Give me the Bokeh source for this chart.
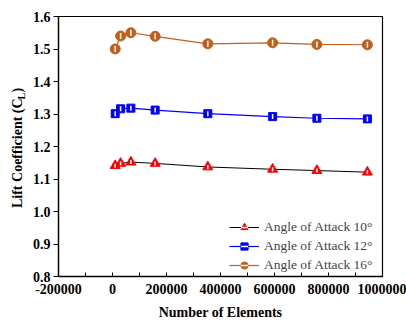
import math
from bokeh.plotting import figure
from bokeh.layouts import row
from bokeh.models import Range1d, FixedTicker, NumeralTickFormatter, Legend, LegendItem
from bokeh.embed import file_html
from bokeh.resources import INLINE

# ---- data ----
elements = [10000, 30000, 68000, 158000, 353000, 593000, 757000, 944000]
cl_aoa10 = [1.141, 1.148, 1.152, 1.148, 1.137, 1.130, 1.126, 1.121]
cl_aoa12 = [1.301, 1.316, 1.318, 1.312, 1.301, 1.292, 1.287, 1.285]
cl_aoa16 = [1.500, 1.540, 1.550, 1.539, 1.516, 1.519, 1.514, 1.513]
series_labels = ["Angle of Attack 10°", "Angle of Attack 12°", "Angle of Attack 16°"]
x_ticks = [-200000, 0, 200000, 400000, 600000, 800000, 1000000]
y_ticks = [0.8, 0.9, 1.0, 1.1, 1.2, 1.3, 1.4, 1.5, 1.6]
y_title_parts = ["Lift Coefficient (C", "L", ")"]

FONT = "Liberation Serif"
ORANGE = "#C0601C"
H = 322
LW = 26  # width of the y-title strip
FTOP, FBOT = 16, 278  # frame top / bottom in page px (the row aligns both frames)

# ---- y-axis title strip (separate figure so the rotated text is not clipped) ----
lab = figure(width=LW, height=H, output_backend="svg", toolbar_location=None,
             x_range=Range1d(0, LW), y_range=Range1d(FBOT, FTOP),
             x_axis_location=None, y_axis_location=None, min_border=0, title=None)
lab.outline_line_color = None
lab.xgrid.visible = False
lab.ygrid.visible = False
tstyle = dict(angle=math.pi / 2, text_font="Liberation Serif", text_font_style="bold",
              text_baseline="middle", text_color="black")
lab.text(x=[17], y=[209], text=[y_title_parts[0]], text_font_size="14px", text_align="left", **tstyle)
lab.text(x=[17], y=[88], text=[y_title_parts[2]], text_font_size="14px", text_align="right", **tstyle)
lab.text(x=[21], y=[93], text=[y_title_parts[1]], text_font_size="10px", text_align="right", **tstyle)

# ---- main plot ----
p = figure(width=406 - LW, height=H, output_backend="svg", toolbar_location=None,
           x_range=Range1d(-200000, 1000000), y_range=Range1d(0.8, 1.6),
           min_border_left=58 - LW, min_border_right=24, min_border_top=FTOP,
           min_border_bottom=H - FBOT)

p.xgrid.visible = False
p.ygrid.visible = False
p.outline_line_color = "black"
p.outline_line_width = 1.2

xa = p.xaxis[0]
xa.ticker = FixedTicker(ticks=x_ticks, minor_ticks=[-100000, 100000, 300000, 500000, 700000, 900000])
xa.formatter = NumeralTickFormatter(format="0")
xa.major_tick_in = 4
xa.major_tick_out = 0
xa.minor_tick_in = 4
xa.minor_tick_out = 0
xa.major_label_standoff = 7
xa.axis_label = "Number of Elements"
xa.axis_label_standoff = 8
xa.axis_label_text_font = FONT
xa.axis_label_text_font_style = "bold"
xa.axis_label_text_font_size = "14px"
xa.axis_label_text_color = "black"
ya = p.yaxis[0]
ya.ticker = FixedTicker(ticks=y_ticks, minor_ticks=[])
ya.formatter = NumeralTickFormatter(format="0.0")
ya.major_tick_in = 0
ya.major_tick_out = 5
ya.major_label_standoff = 3
for ax in (xa, ya):
    ax.axis_line_color = "black"
    ax.axis_line_width = 1.3
    ax.major_tick_line_color = "black"
    ax.minor_tick_line_color = "black"
    ax.major_label_text_font = FONT
    ax.major_label_text_font_style = "bold"
    ax.major_label_text_font_size = "14px"
    ax.major_label_text_color = "black"

l1 = p.line(elements, cl_aoa10, line_color="black", line_width=1)
s1 = p.scatter(elements, cl_aoa10, marker="triangle", size=10, fill_color="red", line_color="red")
d1 = p.scatter(elements, cl_aoa10, marker="dash", angle=math.pi / 2, size=4, line_color="white", line_width=1.5)

l2 = p.line(elements, cl_aoa12, line_color="blue", line_width=1.2)
s2 = p.scatter(elements, cl_aoa12, marker="square", size=8, fill_color="blue", line_color="blue")
d2 = p.scatter(elements, cl_aoa12, marker="dash", angle=math.pi / 2, size=5, line_color="white", line_width=1.5)

l3 = p.line(elements, cl_aoa16, line_color=ORANGE, line_width=1.2)
s3 = p.scatter(elements, cl_aoa16, marker="circle", size=10, fill_color=ORANGE, line_color=ORANGE)
d3 = p.scatter(elements, cl_aoa16, marker="dash", angle=math.pi / 2, size=6, line_color="white", line_width=1.5)

legend = Legend(items=[LegendItem(label=series_labels[0], renderers=[l1, s1, d1]),
                       LegendItem(label=series_labels[1], renderers=[l2, s2, d2]),
                       LegendItem(label=series_labels[2], renderers=[l3, s3, d3])],
                location=(171, 2), border_line_color=None, background_fill_alpha=0,
                label_text_font=FONT, label_text_font_size="13.5px",
                glyph_width=30, glyph_height=18, label_height=18, spacing=1,
                padding=0, margin=0, label_standoff=5)
p.add_layout(legend)

open("out.html", "w").write(file_html(row(lab, p, spacing=0), INLINE))
